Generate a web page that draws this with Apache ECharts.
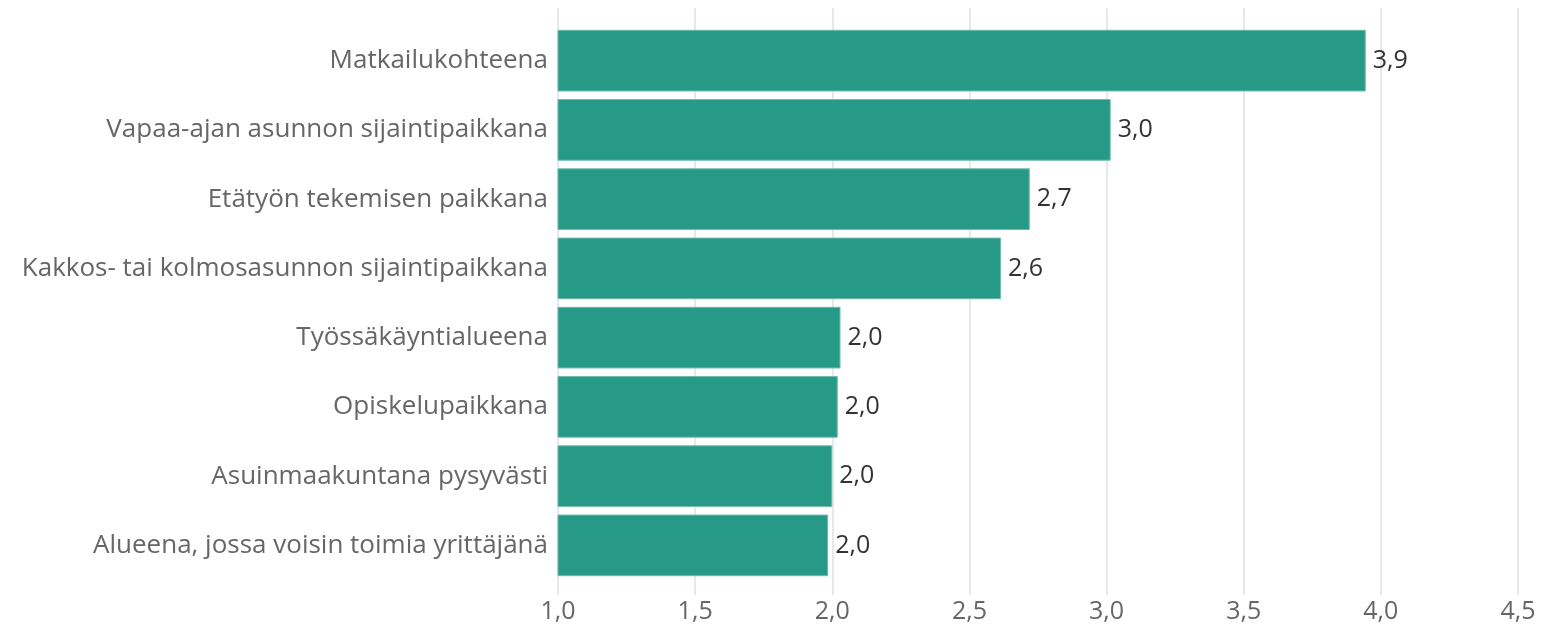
<!DOCTYPE html>
<html>
<head>
<meta charset="utf-8">
<script src="https://cdn.jsdelivr.net/npm/echarts@6/dist/echarts.min.js"></script>
<style>
html,body{margin:0;padding:0;background:#fff;}
#chart{width:1541px;height:626px;}
</style>
</head>
<body>
<div id="chart"></div>
<script>
const categories = [
  "Matkailukohteena",
  "Vapaa-ajan asunnon sijaintipaikkana",
  "Etätyön tekemisen paikkana",
  "Kakkos- tai kolmosasunnon sijaintipaikkana",
  "Työssäkäyntialueena",
  "Opiskelupaikkana",
  "Asuinmaakuntana pysyvästi",
  "Alueena, jossa voisin toimia yrittäjänä"
];
const values = [3.945, 3.015, 2.72, 2.615, 2.03, 2.02, 2.0, 1.985];
const axisMin = 1.0;
const axisMax = 4.5;
const axisStep = 0.5;

const fmt = v => Number(v).toFixed(1).replace('.', ',');
const FONT = '"Open Sans", sans-serif';

const chart = echarts.init(document.getElementById('chart'));
chart.setOption({
  animation: false,
  backgroundColor: '#ffffff',
  grid: [
    {left: 558, right: 23, top: 26, bottom: 46},
    {left: 558, right: 23, top: 8, bottom: 31}
  ],
  xAxis: [
    {gridIndex: 0, type: 'value', min: axisMin, max: axisMax, interval: axisStep,
     axisLine: {show: false}, axisTick: {show: false}, axisLabel: {show: false}, splitLine: {show: false}},
    {gridIndex: 1, type: 'value', min: axisMin, max: axisMax, interval: axisStep,
     axisLine: {show: false}, axisTick: {show: false},
     axisLabel: {color: '#666', fontFamily: FONT, fontSize: 25, margin: 4, formatter: fmt},
     splitLine: {show: true, lineStyle: {color: '#e8e8e8', width: 2}}}
  ],
  yAxis: [
    {gridIndex: 0, type: 'category', data: categories, inverse: true,
     axisLine: {show: false}, axisTick: {show: false},
     axisLabel: {color: '#666', fontFamily: FONT, fontSize: 26, margin: 10}},
    {gridIndex: 1, type: 'value', show: false}
  ],
  series: [{
    type: 'bar',
    xAxisIndex: 0, yAxisIndex: 0,
    data: values,
    barCategoryGap: '11%',
    itemStyle: {color: '#279a87', borderColor: '#6dbcad', borderWidth: 1},
    label: {show: true, position: 'right', distance: 7, color: '#333', fontFamily: FONT, fontSize: 25, formatter: p => fmt(p.value)}
  }]
});
</script>
</body>
</html>
